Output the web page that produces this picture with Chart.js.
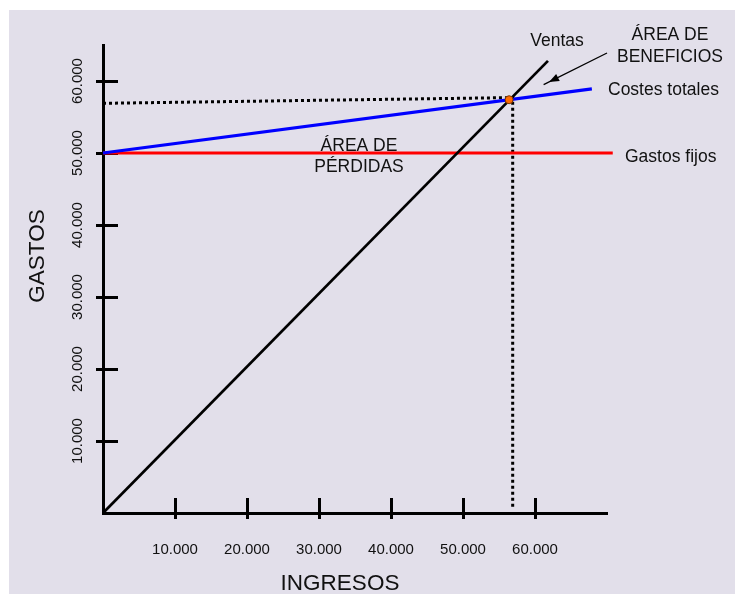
<!DOCTYPE html>
<html>
<head>
<meta charset="utf-8">
<script src="https://cdn.jsdelivr.net/npm/chart.js@4/dist/chart.umd.min.js"></script>
<style>
  html, body { margin: 0; padding: 0; background: #ffffff; }
  canvas { display: block; }
</style>
</head>
<body>
<canvas id="chartEquilibrio" width="735" height="594"></canvas>
<script>
// --- DATA ---
const xTickValues = [10000, 20000, 30000, 40000, 50000, 60000];
const xTickLabels = ['10.000', '20.000', '30.000', '40.000', '50.000', '60.000'];
const yTickValues = [10000, 20000, 30000, 40000, 50000, 60000];
const yTickLabels = ['10.000', '20.000', '30.000', '40.000', '50.000', '60.000'];

const ventasX = [0, 61800];
const ventasY = [0, 62800];
const costesX = [0, 67900];
const costesY = [50000, 58900];
const fijosX = [0, 70800];
const fijosY = [50000, 50000];
const guiaX = [0, 56900, 56900];
const guiaY = [56900, 57700, 500];
const equilibrioX = [56400];
const equilibrioY = [57400];

const toPoints = (xs, ys) => xs.map((x, i) => ({ x, y: ys[i] }));

const FONT = '"Liberation Sans", Arial, sans-serif';
const TEXT = '#111111';

// --- BACKGROUND ---
const fondo = {
    id: 'fondo',
    beforeDraw(chart) {
        const ctx = chart.ctx;
        ctx.save();
        ctx.fillStyle = '#ffffff';
        ctx.fillRect(0, 0, chart.width, chart.height);
        ctx.fillStyle = '#e2dfea';
        ctx.fillRect(9, 10, chart.width - 9, chart.height - 10);
        ctx.restore();
    }
};

// --- TICK MARKS (cross the axes) ---
const marcas = {
    id: 'marcas',
    beforeDatasetsDraw(chart) {
        const { ctx, scales: { x, y }, chartArea } = chart;
        ctx.save();
        ctx.strokeStyle = '#000';
        ctx.lineWidth = 3;
        yTickValues.forEach(v => {
            const py = Math.round(y.getPixelForValue(v)) + 0.5;
            ctx.beginPath();
            ctx.moveTo(chartArea.left - 7, py);
            ctx.lineTo(chartArea.left + 15, py);
            ctx.stroke();
        });
        xTickValues.forEach(v => {
            const px = Math.round(x.getPixelForValue(v)) + 0.5;
            ctx.beginPath();
            ctx.moveTo(px, chartArea.bottom - 15);
            ctx.lineTo(px, chartArea.bottom + 6);
            ctx.stroke();
        });
        ctx.restore();
    }
};

// --- TEXTS AND ARROW ---
const textos = {
    id: 'textos',
    afterDraw(chart) {
        const { ctx, scales: { y } } = chart;
        ctx.save();
        ctx.fillStyle = TEXT;
        ctx.textBaseline = 'alphabetic';

        // y tick labels, rotated
        ctx.font = `15px ${FONT}`;
        ctx.textAlign = 'center';
        yTickValues.forEach((v, i) => {
            ctx.save();
            ctx.translate(82, y.getPixelForValue(v));
            ctx.rotate(-Math.PI / 2);
            ctx.fillText(yTickLabels[i], 0, 0);
            ctx.restore();
        });

        // axis titles
        ctx.font = `22.5px ${FONT}`;
        ctx.save();
        ctx.translate(43.5, 256);
        ctx.rotate(-Math.PI / 2);
        ctx.fillText('GASTOS', 0, 0);
        ctx.restore();
        ctx.fillText('INGRESOS', 340, 590);

        // annotations
        ctx.font = `17.5px ${FONT}`;
        ctx.fillText('Ventas', 557, 46);
        ctx.fillText('ÁREA DE', 670, 39.5);
        ctx.fillText('BENEFICIOS', 670, 62);
        ctx.fillText('ÁREA DE', 359, 150.5);
        ctx.fillText('PÉRDIDAS', 359, 172);
        ctx.textAlign = 'left';
        ctx.fillText('Costes totales', 608, 95);
        ctx.fillText('Gastos fijos', 625, 162);

        // arrow pointing to the profit area
        const x0 = 607, y0 = 53, x1 = 549, y1 = 82;
        const ang = Math.atan2(y1 - y0, x1 - x0);
        ctx.strokeStyle = '#000';
        ctx.fillStyle = '#000';
        ctx.lineWidth = 1.3;
        ctx.beginPath();
        ctx.moveTo(x0, y0);
        ctx.lineTo(x1 + 6 * Math.cos(ang), y1 + 6 * Math.sin(ang));
        ctx.stroke();
        ctx.beginPath();
        ctx.moveTo(x1, y1);
        ctx.lineTo(x1 - 10 * Math.cos(ang) + 4 * Math.sin(ang), y1 - 10 * Math.sin(ang) - 4 * Math.cos(ang));
        ctx.lineTo(x1 - 10 * Math.cos(ang) - 4 * Math.sin(ang), y1 - 10 * Math.sin(ang) + 4 * Math.cos(ang));
        ctx.closePath();
        ctx.fill();

        ctx.restore();
    }
};

const lineDefaults = { showLine: true, pointRadius: 0, fill: false, tension: 0, clip: false };

new Chart(document.getElementById('chartEquilibrio').getContext('2d'), {
    type: 'scatter',
    data: {
        datasets: [
            {
                label: 'Punto de equilibrio',
                data: toPoints(equilibrioX, equilibrioY),
                pointRadius: 4,
                pointBackgroundColor: '#ff6a00',
                pointBorderColor: '#7a3300',
                pointBorderWidth: 1,
                clip: false
            },
            { ...lineDefaults, label: 'Ventas', data: toPoints(ventasX, ventasY), borderColor: '#000000', borderWidth: 2.7 },
            { ...lineDefaults, label: 'Costes totales', data: toPoints(costesX, costesY), borderColor: '#0000ff', borderWidth: 3.2 },
            { ...lineDefaults, label: 'Gastos fijos', data: toPoints(fijosX, fijosY), borderColor: '#ff0000', borderWidth: 3.2 },
            { ...lineDefaults, label: 'Guía', data: toPoints(guiaX, guiaY), borderColor: '#000000', borderWidth: 3, borderDash: [3, 3] }
        ]
    },
    options: {
        responsive: false,
        animation: false,
        events: [],
        layout: { padding: { top: 45, right: 128, left: 0, bottom: 0 } },
        plugins: { legend: { display: false }, tooltip: { enabled: false } },
        scales: {
            x: {
                type: 'linear',
                min: 0,
                max: 70000,
                grid: { display: false, drawTicks: false },
                border: { display: true, color: '#000', width: 3 },
                afterBuildTicks: s => { s.ticks = xTickValues.map(v => ({ value: v })); },
                afterFit: s => { s.height = 81; },
                ticks: {
                    autoSkip: false,
                    maxRotation: 0,
                    padding: 28,
                    color: TEXT,
                    font: { family: FONT, size: 15 },
                    callback: (v, i) => xTickLabels[i]
                }
            },
            y: {
                type: 'linear',
                min: 0,
                max: 65000,
                grid: { display: false, drawTicks: false },
                border: { display: true, color: '#000', width: 3 },
                afterBuildTicks: s => { s.ticks = yTickValues.map(v => ({ value: v })); },
                afterFit: s => { s.width = 103; },
                ticks: { display: false }
            }
        }
    },
    plugins: [fondo, marcas, textos]
});
</script>
</body>
</html>
